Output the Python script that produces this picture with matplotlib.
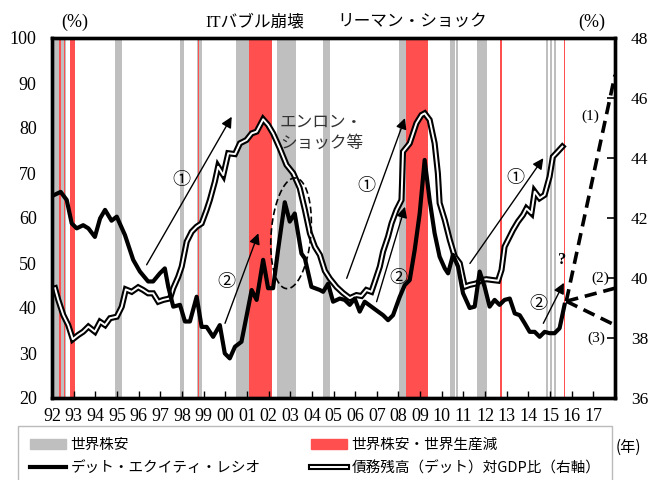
import numpy as np
import matplotlib.pyplot as plt
from matplotlib.lines import Line2D
from matplotlib.patches import Patch
from matplotlib.legend_handler import HandlerTuple

plt.rcParams['font.family'] = ['Liberation Serif', 'Noto Sans CJK JP']

# shaded periods (start, end in decimal years)
grey_spans = [(1992.09, 1992.65), (1994.91, 1995.22), (1997.91, 1998.09),
              (1998.68, 1998.91), (2000.52, 2001.10), (2002.37, 2003.26),
              (2004.51, 2004.83), (2008.03, 2008.37), (2010.37, 2010.60),
              (2010.68, 2010.75), (2011.63, 2012.09), (2014.80, 2014.89),
              (2014.98, 2015.11), (2015.17, 2015.29)]
red_spans = [(1992.34, 1992.40), (1992.56, 1992.62), (1992.83, 1993.06),
             (1998.75, 1998.81), (2001.10, 2002.18), (2008.37, 2009.37),
             (2012.71, 2012.77), (2015.64, 2015.70)]

# debt equity ratio (left axis, %)
de_year = [1992.14, 1992.40, 1992.68, 1992.91, 1993.14, 1993.44, 1993.68, 1993.98,
           1994.22, 1994.45, 1994.75, 1994.99, 1995.37, 1995.75, 1996.06, 1996.44,
           1996.67, 1996.98, 1997.21, 1997.37, 1997.60, 1997.91, 1998.14, 1998.37,
           1998.68, 1998.91, 1999.14, 1999.44, 1999.75, 1999.98, 2000.21, 2000.45,
           2000.75, 2000.98, 2001.22, 2001.45, 2001.75, 2001.98, 2002.21, 2002.44,
           2002.75, 2002.98, 2003.21, 2003.52, 2003.68, 2003.98, 2004.37, 2004.52,
           2004.75, 2004.98, 2005.29, 2005.52, 2005.75, 2005.98, 2006.21, 2006.44,
           2006.75, 2007.06, 2007.29, 2007.52, 2007.75, 2008.06, 2008.29, 2008.52,
           2008.75, 2008.98, 2009.21, 2009.44, 2009.67, 2009.90, 2010.14, 2010.29,
           2010.52, 2010.75, 2010.98, 2011.29, 2011.52, 2011.75, 2011.98, 2012.21,
           2012.44, 2012.67, 2012.90, 2013.14, 2013.37, 2013.60, 2013.83, 2014.06,
           2014.29, 2014.52, 2014.75, 2014.98, 2015.21, 2015.44, 2015.67]
de_ratio = [65.2, 65.8, 64.0, 58.8, 57.7, 58.4, 57.7, 55.8,
            59.9, 61.8, 59.4, 60.3, 56.2, 50.7, 48.1, 45.9,
            45.9, 47.7, 48.8, 44.7, 40.3, 40.7, 37.0, 37.0,
            42.5, 35.8, 35.8, 33.6, 36.2, 29.9, 28.8, 31.4,
            32.5, 38.1, 44.0, 41.8, 50.7, 44.4, 44.4, 52.9,
            63.5, 59.2, 61.0, 52.1, 51.0, 44.7, 44.0, 43.6,
            45.4, 41.4, 42.1, 41.8, 40.7, 42.1, 39.2, 41.4,
            40.3, 39.2, 38.4, 37.3, 38.4, 42.5, 45.1, 46.2,
            52.9, 61.0, 72.9, 64.0, 56.6, 51.4, 48.8, 47.7,
            51.8, 49.2, 43.3, 40.0, 40.3, 48.1, 44.7, 40.3,
            41.8, 40.7, 41.8, 42.1, 38.8, 38.4, 36.6, 34.7,
            34.7, 33.6, 34.7, 34.4, 34.4, 35.5, 40.7]

# debt to GDP (right axis, %)
debt_year = [1992.14, 1992.29, 1992.52, 1992.75, 1992.96, 1993.21, 1993.44, 1993.68,
             1993.98, 1994.22, 1994.45, 1994.68, 1994.99, 1995.22, 1995.41, 1995.68,
             1995.98, 1996.21, 1996.44, 1996.67, 1996.91, 1997.14, 1997.45, 1997.60,
             1997.83, 1997.99, 1998.22, 1998.45, 1998.68, 1998.91, 1999.14, 1999.29,
             1999.52, 1999.67, 1999.91, 2000.14, 2000.45, 2000.68, 2000.98, 2001.22,
             2001.45, 2001.75, 2001.98, 2002.21, 2002.52, 2002.83, 2003.14, 2003.44,
             2003.68, 2003.91, 2004.14, 2004.37, 2004.60, 2004.83, 2005.14, 2005.44,
             2005.75, 2006.06, 2006.29, 2006.52, 2006.75, 2006.91, 2007.14, 2007.29,
             2007.52, 2007.68, 2007.91, 2008.14, 2008.21, 2008.52, 2008.83, 2009.06,
             2009.21, 2009.44, 2009.67, 2009.82, 2009.90, 2010.14, 2010.37, 2010.60,
             2010.83, 2011.06, 2011.29, 2011.60, 2011.83, 2012.06, 2012.37, 2012.60,
             2012.76, 2012.90, 2013.06, 2013.29, 2013.52, 2013.75, 2013.91, 2014.14,
             2014.29, 2014.52, 2014.75, 2014.98, 2015.13, 2015.29, 2015.57]
debt_gdp = [39.66, 39.27, 38.77, 38.43, 37.96, 38.10, 38.21, 38.38,
            38.21, 38.54, 38.43, 38.66, 38.71, 39.04, 39.62, 39.54,
            39.69, 39.60, 39.49, 39.49, 39.21, 39.27, 39.32, 39.66,
            40.04, 40.38, 41.21, 41.54, 41.71, 41.82, 42.27, 42.60,
            43.21, 43.71, 43.43, 44.16, 44.13, 44.49, 44.60, 44.82,
            44.88, 45.29, 45.10, 44.82, 44.32, 43.77, 43.49, 43.00,
            42.27, 41.49, 41.04, 40.77, 40.24, 39.98, 39.70, 39.50,
            39.33, 39.43, 39.40, 39.60, 39.54, 39.88, 40.38, 40.88,
            41.38, 41.82, 42.27, 42.60, 44.21, 44.49, 45.16, 45.43,
            45.49, 45.27, 44.49, 43.49, 42.50, 41.93, 41.27, 40.71,
            40.49, 39.71, 39.77, 39.82, 39.93, 39.96, 39.93, 39.91,
            40.27, 41.04, 41.27, 41.60, 41.88, 42.10, 42.32, 42.16,
            42.88, 42.66, 42.77, 43.38, 44.04, 44.16, 44.38]

# scenario lines (1)-(3) from the last point to the axis end
scen_start = (2015.75, 41.5)
scen_end = [91.8, 44.4, 36.2]

years = list(range(1992, 2018))
year_labels = ['%02d' % (y % 100) for y in years]

W, H = 651, 480
fig = plt.figure(figsize=(W / 100, H / 100), dpi=100)
ax = fig.add_axes([52 / W, 1 - 398 / H, 563 / W, 360 / H])
ax2 = ax.twinx()
ax.set_zorder(2)
ax2.set_zorder(1)
ax.patch.set_visible(False)

grey = '#BFBFBF'
red = '#FF4F4F'
for a, b in grey_spans:
    ax2.axvspan(a, b, color=grey, lw=0)
for a, b in red_spans:
    ax2.axvspan(a, b, color=red, lw=0)

# double line: black outline with white core
ax2.plot(debt_year, debt_gdp, color='k', lw=4.4, solid_joinstyle='miter')
ax2.plot(debt_year, debt_gdp, color='white', lw=1.4)

ax.plot(de_year, de_ratio, color='k', lw=3.0)

for yend in scen_end:
    ax.plot([scen_start[0], 2018], [scen_start[1], yend], color='k', lw=2.6,
            dashes=(3.4, 1.9))

ax.set_xlim(1992, 2018)
ax.set_ylim(20, 100)
ax2.set_ylim(36, 48)
ax.set_yticks(range(20, 101, 10))
ax2.set_yticks(range(36, 49, 2))
ax.set_xticks(years)
ax.set_xticklabels(year_labels)

ax.tick_params(axis='y', length=0, pad=11, labelsize=13)
ax.tick_params(axis='x', direction='in', length=5, width=1, pad=7, labelsize=13)
ax2.tick_params(axis='y', direction='in', length=6, width=1.2, pad=11.5,
                labelsize=12.5)
for a in (ax, ax2):
    for s in a.spines.values():
        s.set_linewidth(2.4)

# arrows (1) and (2)
arrow_kw = dict(arrowstyle='-|>', color='k', lw=1.0, mutation_scale=16,
                shrinkA=0, shrinkB=0)
arrows = [((1996.37, 49.6), (2000.30, 82.5), (1997.99, 68.4), '①'),
          ((1999.99, 36.6), (2001.53, 56.6), (2000.04, 45.8), '②'),
          ((2005.61, 46.6), (2008.30, 82.2), (2006.53, 67.0), '①'),
          ((2006.99, 41.4), (2008.30, 62.5), (2007.99, 46.6), '②'),
          ((2011.30, 49.9), (2014.69, 73.3), (2013.38, 68.8), '①'),
          ((2014.69, 36.6), (2015.64, 45.6), (2014.46, 41.0), '②')]
for tail, head, lab, txt in arrows:
    ax.annotate('', xy=head, xytext=tail, arrowprops=arrow_kw)
    ax.text(lab[0], lab[1], txt, ha='center', va='center', fontsize=13,
            family='Noto Sans CJK JP')

ax.text(2015.58, 50.7, '?', ha='center', va='center', fontsize=12,
        fontweight='bold')
ax.text(2016.84, 82.5, '(1)', ha='center', va='center', fontsize=11)
ax.text(2017.31, 46.6, '(2)', ha='center', va='center', fontsize=11)
ax.text(2017.15, 33.3, '(3)', ha='center', va='center', fontsize=11)
ax.text(2002.53, 81.3, 'エンロン・', ha='left', va='center', fontsize=12,
        family='Noto Sans CJK JP', color='#333333')
ax.text(2002.53, 76.7, 'ショック等', ha='left', va='center', fontsize=12,
        family='Noto Sans CJK JP', color='#333333')

# dashed ellipse around the Enron period
t = np.linspace(0, 2 * np.pi, 200)
ax.plot(2003.04 + 0.92 * np.cos(t) + 0.18 * np.sin(t),
        56.6 + 12.3 * np.sin(t), color='k', lw=1.2, dashes=(4, 2))

fig.text(75 / W, 1 - 22 / H, '(%)', ha='center', va='center', fontsize=13)
fig.text(592 / W, 1 - 22 / H, '(%)', ha='center', va='center', fontsize=13)
fig.text(255 / W, 1 - 22 / H, 'ITバブル崩壊', ha='center', va='center',
         fontsize=12)
fig.text(412 / W, 1 - 22 / H, 'リーマン・ショック', ha='center', va='center',
         fontsize=12)
fig.text(628 / W, 1 - 447 / H, '(年)', ha='center', va='center', fontsize=11,
         family='Noto Sans CJK JP')

handles = [Patch(color=grey), Line2D([], [], color='k', lw=3),
           Patch(color=red),
           (Line2D([], [], color='k', lw=4.4), Line2D([], [], color='white', lw=1.4))]
labels = ['世界株安', 'デット・エクイティ・レシオ', '世界株安・世界生産減',
          '債務残高（デット）対GDP比（右軸）']
fig.legend(handles, labels, ncol=2, loc='upper left',
           bbox_to_anchor=(18 / W, 1 - 431 / H, 594 / W, 0.01), mode='expand',
           frameon=True, fancybox=False, edgecolor='#BBBBBB', framealpha=1,
           prop={'family': 'Noto Sans CJK JP', 'size': 10.5},
           handlelength=2.5, handletextpad=0.3, borderaxespad=0,
           borderpad=0.8, labelspacing=0.65,
           handler_map={tuple: HandlerTuple(ndivide=1)})

fig.savefig('out.png', dpi=100)
